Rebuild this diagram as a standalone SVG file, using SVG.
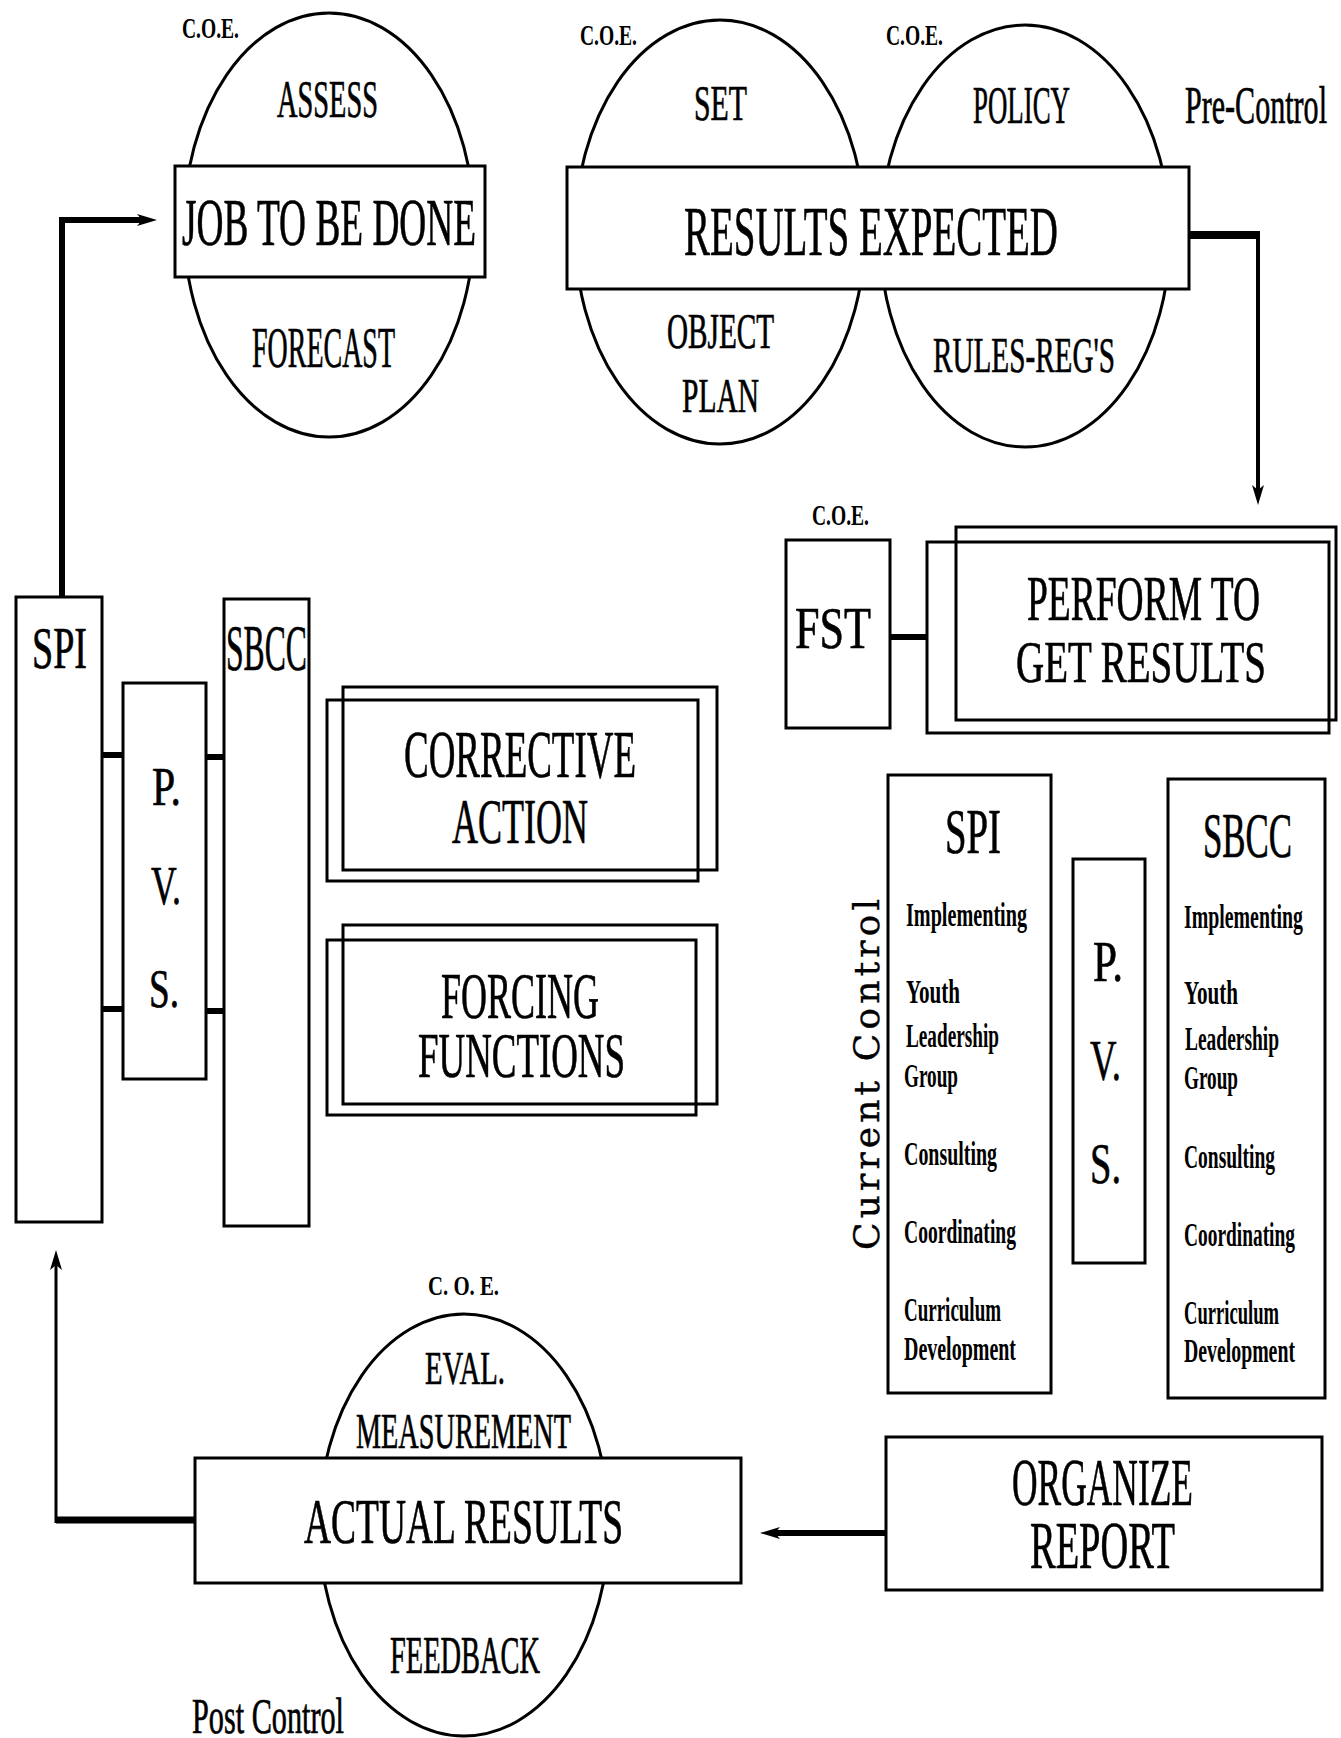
<svg xmlns="http://www.w3.org/2000/svg" width="1341" height="1738" viewBox="0 0 1341 1738">
<style>
rect.b{fill:#fff;stroke:#000;stroke-width:3}
rect.o{fill:none;stroke:#000;stroke-width:3}
ellipse{fill:#fff;stroke:#000;stroke-width:3}
text{font-family:"Liberation Serif","Times New Roman",serif;fill:#000;stroke:#000;stroke-width:0.7}
.it{font-weight:bold;font-size:34px;stroke-width:0}
.coe{font-weight:bold;font-size:30px;stroke-width:0}
.c line,.c path{stroke:#000;fill:none}
</style>
<defs>
<marker id="ah" viewBox="0 0 20 12" refX="8" refY="6" markerWidth="20" markerHeight="12" orient="auto" markerUnits="userSpaceOnUse">
<path d="M0,0 L20,6 L0,12 L5,6 Z" fill="#000"/>
</marker>
</defs>
<rect width="1341" height="1738" fill="#fff"/>

<g id="job">
<ellipse cx="329" cy="225" rx="145" ry="212"/>
<rect class="b" x="175" y="166" width="310" height="111"/>
<text class="coe" x="182" y="38" textLength="57" lengthAdjust="spacingAndGlyphs">C.O.E.</text>
<text x="277" y="117" font-size="53" textLength="101" lengthAdjust="spacingAndGlyphs">ASSESS</text>
<text x="182" y="245" font-size="68" textLength="294" lengthAdjust="spacingAndGlyphs">JOB TO BE DONE</text>
<text x="252" y="367" font-size="56" textLength="143" lengthAdjust="spacingAndGlyphs">FORECAST</text>
</g>

<g id="results">
<ellipse cx="720" cy="232" rx="145" ry="212"/>
<ellipse cx="1025" cy="236" rx="145" ry="211"/>
<rect class="b" x="567" y="167" width="622" height="122"/>
<text class="coe" x="580" y="45" textLength="57" lengthAdjust="spacingAndGlyphs">C.O.E.</text>
<text class="coe" x="886" y="45" textLength="57" lengthAdjust="spacingAndGlyphs">C.O.E.</text>
<text x="694" y="120" font-size="50" textLength="53" lengthAdjust="spacingAndGlyphs">SET</text>
<text x="973" y="123" font-size="53" textLength="97" lengthAdjust="spacingAndGlyphs">POLICY</text>
<text x="684" y="255" font-size="70" textLength="374" lengthAdjust="spacingAndGlyphs">RESULTS EXPECTED</text>
<text x="667" y="348" font-size="50" textLength="107" lengthAdjust="spacingAndGlyphs">OBJECT</text>
<text x="682" y="412" font-size="49" textLength="77" lengthAdjust="spacingAndGlyphs">PLAN</text>
<text x="933" y="372" font-size="51" textLength="182" lengthAdjust="spacingAndGlyphs">RULES-REG'S</text>
</g>

<text id="precontrol" x="1185" y="123" font-size="53" textLength="142" lengthAdjust="spacingAndGlyphs">Pre-Control</text>

<g id="fst">
<rect class="b" x="786" y="540" width="104" height="188"/>
<text class="coe" x="812" y="525" font-size="32" textLength="57" lengthAdjust="spacingAndGlyphs">C.O.E.</text>
<text x="795" y="648" font-size="60" textLength="76" lengthAdjust="spacingAndGlyphs">FST</text>
</g>

<g id="perform">
<rect class="b" x="927" y="542" width="402" height="191"/>
<rect class="o" x="956" y="527" width="380" height="193"/>
<text x="1027" y="620" font-size="63" textLength="233" lengthAdjust="spacingAndGlyphs">PERFORM TO</text>
<text x="1016" y="682" font-size="60" textLength="250" lengthAdjust="spacingAndGlyphs">GET RESULTS</text>
</g>

<g id="spi-left">
<rect class="b" x="16" y="597" width="86" height="625"/>
<text x="32" y="668" font-size="60" textLength="55" lengthAdjust="spacingAndGlyphs">SPI</text>
</g>
<g id="pvs-left">
<rect class="b" x="123" y="683" width="83" height="396"/>
<text x="152" y="805" font-size="55" textLength="29" lengthAdjust="spacingAndGlyphs">P.</text>
<text x="151" y="904" font-size="55" textLength="30" lengthAdjust="spacingAndGlyphs">V.</text>
<text x="149" y="1007" font-size="55" textLength="30" lengthAdjust="spacingAndGlyphs">S.</text>
</g>
<g id="sbcc-left">
<rect class="b" x="224" y="599" width="85" height="627"/>
<text x="226" y="670" font-size="66" textLength="81" lengthAdjust="spacingAndGlyphs">SBCC</text>
</g>

<g id="corrective">
<rect class="b" x="327" y="700" width="371" height="181"/>
<rect class="o" x="343" y="687" width="374" height="183"/>
<text x="404" y="777" font-size="67" textLength="232" lengthAdjust="spacingAndGlyphs">CORRECTIVE</text>
<text x="452" y="843" font-size="63" textLength="136" lengthAdjust="spacingAndGlyphs">ACTION</text>
</g>

<g id="forcing">
<rect class="b" x="327" y="940" width="369" height="175"/>
<rect class="o" x="343" y="925" width="374" height="179"/>
<text x="441" y="1018" font-size="66" textLength="158" lengthAdjust="spacingAndGlyphs">FORCING</text>
<text x="418" y="1077" font-size="63" textLength="207" lengthAdjust="spacingAndGlyphs">FUNCTIONS</text>
</g>

<g id="spi-right">
<rect class="b" x="888" y="775" width="163" height="618"/>
<text x="945" y="853" font-size="63" textLength="56" lengthAdjust="spacingAndGlyphs">SPI</text>
<text class="it" x="906" y="926" textLength="121" lengthAdjust="spacingAndGlyphs">Implementing</text>
<text class="it" x="906" y="1003" textLength="54" lengthAdjust="spacingAndGlyphs">Youth</text>
<text class="it" x="906" y="1047" textLength="93" lengthAdjust="spacingAndGlyphs">Leadership</text>
<text class="it" x="904" y="1087" textLength="54" lengthAdjust="spacingAndGlyphs">Group</text>
<text class="it" x="904" y="1165" textLength="93" lengthAdjust="spacingAndGlyphs">Consulting</text>
<text class="it" x="904" y="1243" textLength="112" lengthAdjust="spacingAndGlyphs">Coordinating</text>
<text class="it" x="904" y="1321" textLength="97" lengthAdjust="spacingAndGlyphs">Curriculum</text>
<text class="it" x="904" y="1360" textLength="112" lengthAdjust="spacingAndGlyphs">Development</text>
</g>

<g id="pvs-right">
<rect class="b" x="1073" y="859" width="72" height="404"/>
<text x="1093" y="981" font-size="58" textLength="30" lengthAdjust="spacingAndGlyphs">P.</text>
<text x="1090" y="1080" font-size="58" textLength="31" lengthAdjust="spacingAndGlyphs">V.</text>
<text x="1090" y="1183" font-size="58" textLength="31" lengthAdjust="spacingAndGlyphs">S.</text>
</g>

<g id="sbcc-right">
<rect class="b" x="1168" y="779" width="157" height="619"/>
<text x="1203" y="857" font-size="63" textLength="89" lengthAdjust="spacingAndGlyphs">SBCC</text>
<text class="it" x="1184" y="928" textLength="119" lengthAdjust="spacingAndGlyphs">Implementing</text>
<text class="it" x="1184" y="1004" textLength="54" lengthAdjust="spacingAndGlyphs">Youth</text>
<text class="it" x="1185" y="1050" textLength="94" lengthAdjust="spacingAndGlyphs">Leadership</text>
<text class="it" x="1184" y="1089" textLength="54" lengthAdjust="spacingAndGlyphs">Group</text>
<text class="it" x="1184" y="1168" textLength="91" lengthAdjust="spacingAndGlyphs">Consulting</text>
<text class="it" x="1184" y="1246" textLength="111" lengthAdjust="spacingAndGlyphs">Coordinating</text>
<text class="it" x="1184" y="1324" textLength="95" lengthAdjust="spacingAndGlyphs">Curriculum</text>
<text class="it" x="1184" y="1362" textLength="111" lengthAdjust="spacingAndGlyphs">Development</text>
</g>

<text id="currentcontrol" transform="translate(879,1250) rotate(-90)" x="0" y="0" font-size="36" style="font-family:'DejaVu Serif',serif;stroke-width:0.4" textLength="351" lengthAdjust="spacing">Current Control</text>

<g id="organize">
<rect class="b" x="886" y="1437" width="436" height="153"/>
<text x="1012" y="1505" font-size="68" textLength="181" lengthAdjust="spacingAndGlyphs">ORGANIZE</text>
<text x="1030" y="1568" font-size="68" textLength="145" lengthAdjust="spacingAndGlyphs">REPORT</text>
</g>

<g id="actual">
<ellipse cx="464" cy="1525" rx="145" ry="211"/>
<rect class="b" x="195" y="1458" width="546" height="125"/>
<text x="428" y="1295" font-size="27" style="font-weight:bold;stroke-width:0" textLength="71" lengthAdjust="spacingAndGlyphs">C. O. E.</text>
<text x="425" y="1384" font-size="47" textLength="80" lengthAdjust="spacingAndGlyphs">EVAL.</text>
<text x="356" y="1448" font-size="50" textLength="215" lengthAdjust="spacingAndGlyphs">MEASUREMENT</text>
<text x="304" y="1543" font-size="63" textLength="319" lengthAdjust="spacingAndGlyphs">ACTUAL RESULTS</text>
<text x="390" y="1673" font-size="53" textLength="150" lengthAdjust="spacingAndGlyphs">FEEDBACK</text>
</g>

<text id="postcontrol" x="192" y="1733" font-size="50" textLength="152" lengthAdjust="spacingAndGlyphs">Post Control</text>

<g id="connectors" class="c">
<path d="M62,597 V220 H145" stroke-width="6" marker-end="url(#ah)"/>
<path d="M1189,235 H1258" stroke-width="8"/>
<path d="M1258,231 V493" stroke-width="4" marker-end="url(#ah)"/>
<line x1="890" y1="637" x2="927" y2="637" stroke-width="6"/>
<line x1="102" y1="755" x2="123" y2="755" stroke-width="6"/>
<line x1="102" y1="1009" x2="123" y2="1009" stroke-width="6"/>
<line x1="206" y1="757" x2="224" y2="757" stroke-width="6"/>
<line x1="206" y1="1011" x2="224" y2="1011" stroke-width="6"/>
<path d="M886,1533 H772" stroke-width="6" marker-end="url(#ah)"/>
<path d="M195,1520 H56" stroke-width="7"/>
<path d="M56,1523 V1262" stroke-width="3" marker-end="url(#ah)"/>
</g>
</svg>
